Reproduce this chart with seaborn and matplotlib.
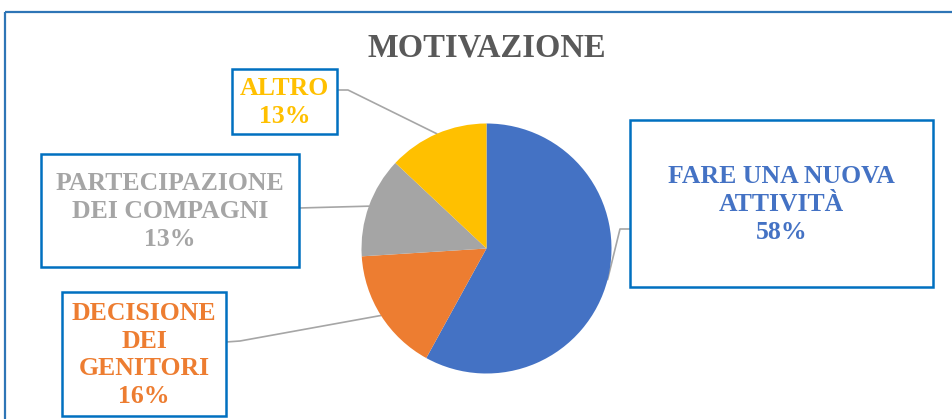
import matplotlib.pyplot as plt
import seaborn as sns
import numpy as np
from matplotlib.patches import Rectangle

# data
labels = ["FARE UNA NUOVA\nATTIVITÀ", "DECISIONE\nDEI\nGENITORI",
          "PARTECIPAZIONE\nDEI COMPAGNI", "ALTRO"]
values = [58, 16, 13, 13]
colors = ["#4472C4", "#ED7D31", "#A5A5A5", "#FFC000"]
pct_labels = ["58%", "16%", "13%", "13%"]

# label boxes in pixel coords: (x0, y0, x1, y1), plus elbow point for the leader line
boxes = [(630, 120, 933, 287), (62, 292, 226, 416), (41, 154, 299, 267), (232, 69, 337, 134)]
elbows = [(620, 229), (240, 341), (299, 208), (348, 90)]
anchors = [(630, 229), (226, 342), (299, 208), (337, 90)]

sns.set_style("white")
plt.rcParams['font.family'] = ['Liberation Serif', 'DejaVu Serif']

W, H = 952, 419
fig = plt.figure(figsize=(W / 100, H / 100), dpi=100)

cx, cy, r = 486.5, 248.5, 125
ax = fig.add_axes([(cx - r) / W, (H - cy - r) / H, 2 * r / W, 2 * r / H])
wedges, _ = ax.pie(values, colors=colors, startangle=90, counterclock=False,
                   wedgeprops=dict(linewidth=0))
ax.set_xlim(-1, 1)
ax.set_ylim(-1, 1)
ax.set_aspect("equal")
ax.axis("off")

ov = fig.add_axes([0, 0, 1, 1], zorder=-1)
ov.set_xlim(0, W)
ov.set_ylim(H, 0)
ov.axis("off")

# outer chart frame
ov.add_patch(Rectangle((5, 12), 960, 430, fill=False, edgecolor="#2E75B6", lw=1.6))

ov.text(cx, 48, "MOTIVAZIONE", ha="center", va="center", fontsize=23.5,
        fontweight="bold", color="#595959")

for w, lab, pct, col, box, el, an in zip(wedges, labels, pct_labels, colors, boxes, elbows, anchors):
    mid = np.deg2rad((w.theta1 + w.theta2) / 2)
    px, py = cx + r * np.cos(mid), cy - r * np.sin(mid)
    ov.plot([an[0], el[0], px], [an[1], el[1], py], color="#A6A6A6", lw=1.2)
    x0, y0, x1, y1 = box
    ov.add_patch(Rectangle((x0, y0), x1 - x0, y1 - y0, facecolor="white",
                           edgecolor="#0070C0", lw=1.8, zorder=3))
    ov.text((x0 + x1) / 2, (y0 + y1) / 2 + 1, lab + "\n" + pct, ha="center", va="center",
            fontsize=18.5, fontweight="bold", color=col, linespacing=1.26, zorder=4)

fig.savefig("out.png", dpi=100, facecolor="white")
